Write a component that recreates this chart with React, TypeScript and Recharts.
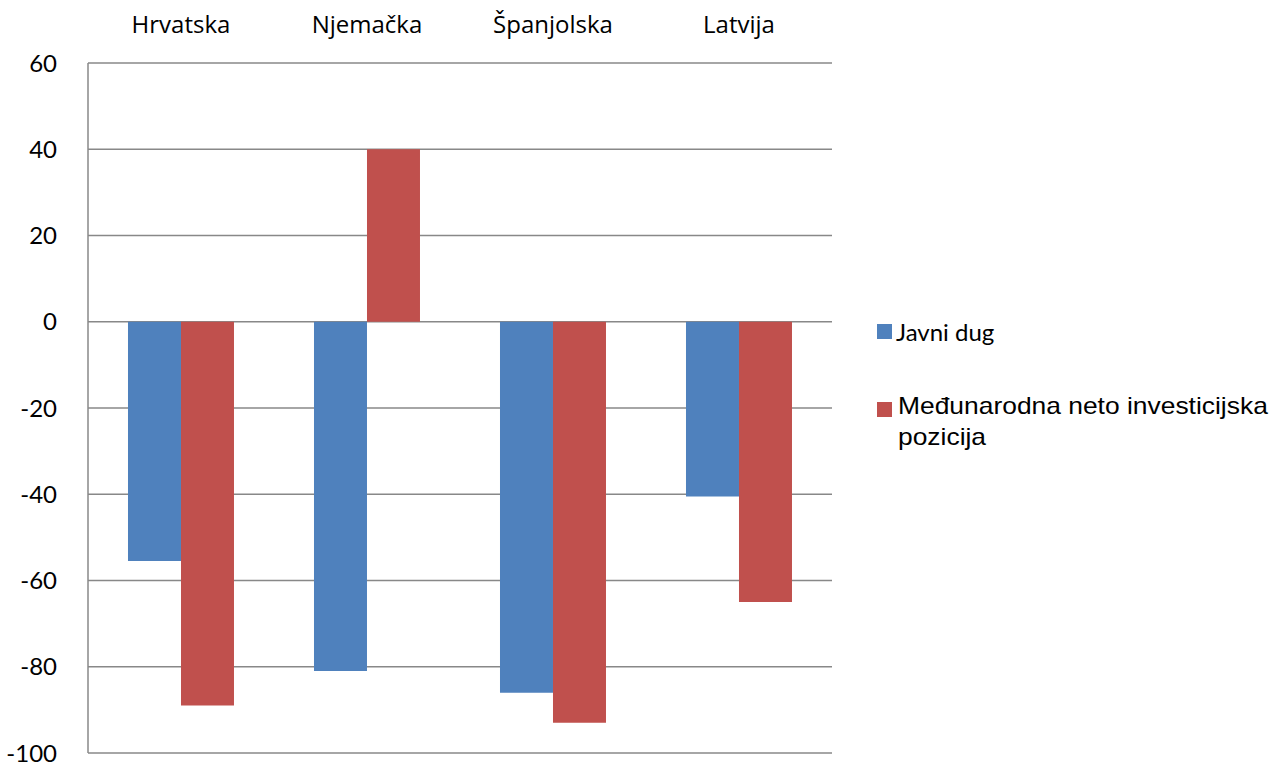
import { BarChart, Bar, XAxis, YAxis, CartesianGrid } from 'recharts'

const countries = ['Hrvatska', 'Njemačka', 'Španjolska', 'Latvija']
const javniDug = [-55.5, -81, -86, -40.5]
const investicijska = [-89, 40, -93, -65]
const yTicks = [-100, -80, -60, -40, -20, 0, 20, 40, 60]

const seriesNames = ['Javni dug', 'Međunarodna neto investicijska pozicija']
const colors = ['#4F81BD', '#C0504D']

const chartData = countries.map((name, i) => ({
  name,
  dug: javniDug[i],
  nip: investicijska[i],
}))

const LegendBox = () => (
  <div style={{ position: 'absolute', left: 877, top: 313, width: 400, color: '#000' }}>
    <div style={{ display: 'flex', alignItems: 'center', height: 36 }}>
      <span style={{ width: 15, height: 15, background: colors[0], display: 'inline-block', marginRight: 4 }} />
      <span style={{ fontFamily: 'Lato, sans-serif', fontSize: 24 }}>{seriesNames[0]}</span>
    </div>
    <div style={{ display: 'flex', alignItems: 'flex-start', marginTop: 41 }}>
      <span style={{ width: 15, height: 15, background: colors[1], display: 'inline-block', marginRight: 6, marginTop: 12, flexShrink: 0 }} />
      <span
        style={{
          fontFamily: '"Liberation Sans", Arial, sans-serif',
          fontSize: 24,
          lineHeight: '31px',
          width: 345,
          display: 'inline-block',
          transform: 'scaleX(1.1)',
          transformOrigin: 'left top',
        }}
      >
        {seriesNames[1]}
      </span>
    </div>
  </div>
)

const App = () => {
  return (
    <div style={{ position: 'absolute', left: 0, top: 0, width: 1278, height: 766, background: '#fff' }}>
      <BarChart
        width={1278}
        height={766}
        data={chartData}
        margin={{ top: 0, right: 446, bottom: 13, left: 0 }}
        barCategoryGap="21.5%"
        barGap={0}
      >
        <CartesianGrid vertical={false} stroke="#888" strokeWidth={1.5} />
        <XAxis
          dataKey="name"
          orientation="top"
          height={63}
          axisLine={false}
          tickLine={false}
          tickMargin={24}
          tick={{ fill: '#000', fontSize: 24, fontFamily: '"Open Sans", sans-serif' }}
          interval={0}
        />
        <YAxis
          width={88}
          domain={[-100, 60]}
          ticks={yTicks}
          interval={0}
          axisLine={{ stroke: '#888', strokeWidth: 1.5 }}
          tickLine={false}
          tickMargin={25}
          tick={{ fill: '#000', fontSize: 24, fontFamily: 'Lato, sans-serif' }}
        />
        <Bar dataKey="dug" name={seriesNames[0]} fill={colors[0]} isAnimationActive={false} />
        <Bar dataKey="nip" name={seriesNames[1]} fill={colors[1]} isAnimationActive={false} />
      </BarChart>
      <LegendBox />
    </div>
  )
}

export default App
